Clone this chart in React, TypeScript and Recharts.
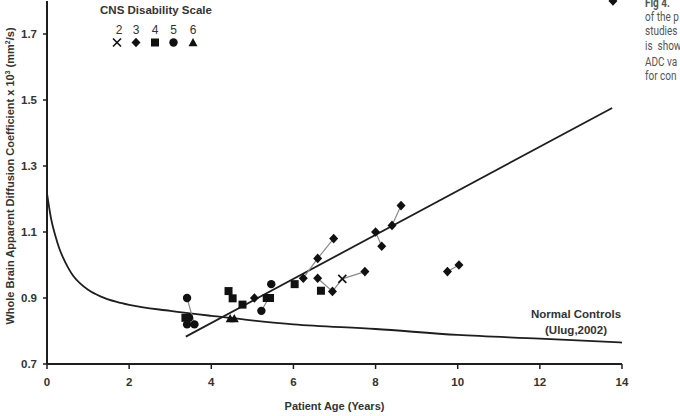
import React from "react";
import { ComposedChart, XAxis, YAxis, Scatter, Line, Customized } from "recharts";

const FONT = '"Liberation Sans", Arial, sans-serif';
const INK = "#1e1e1e";
const TEXT = "#333";

const xTicks = [0, 2, 4, 6, 8, 10, 12, 14];
const yTicks = [0.7, 0.9, 1.1, 1.3, 1.5, 1.7];

// CNS disability score groups (age in years, whole brain ADC x10^3 mm2/s)
const cns2Age = [7.19];
const cns2Adc = [0.958];
const cns3Age = [5.05, 6.24, 6.59, 6.98, 6.59, 6.95, 7.74, 8.0, 8.15, 8.4, 8.62, 9.75, 10.03, 13.78];
const cns3Adc = [0.9, 0.96, 1.02, 1.08, 0.96, 0.92, 0.98, 1.1, 1.057, 1.12, 1.18, 0.98, 1.0, 1.8];
const cns4Age = [3.37, 4.42, 4.52, 4.76, 5.35, 5.43, 6.03, 6.67];
const cns4Adc = [0.84, 0.921, 0.899, 0.88, 0.9, 0.9, 0.942, 0.922];
const cns5Age = [3.41, 3.46, 3.41, 3.59, 5.22, 5.46];
const cns5Adc = [0.9, 0.84, 0.82, 0.82, 0.861, 0.942];
const cns6Age = [4.46, 4.56];
const cns6Adc = [0.838, 0.838];

// repeated scans of the same patient, joined by thin grey lines
const followUps = [
  [[3.41, 0.9], [3.59, 0.82]],
  [[5.22, 0.861], [5.4, 0.9]],
  [[6.24, 0.96], [6.59, 1.02], [6.98, 1.08]],
  [[6.59, 0.96], [6.95, 0.92], [7.19, 0.958], [7.74, 0.98]],
  [[8.0, 1.1], [8.15, 1.057]],
  [[8.4, 1.12], [8.62, 1.18]],
  [[9.75, 0.98], [10.03, 1.0]],
];

// normal controls (Ulug, 2002)
const controlAge = [0, 0.1, 0.2, 0.3, 0.4, 0.5, 0.65, 0.8, 1.0, 1.3, 1.7, 2, 3, 4, 6, 8, 10, 12, 14];
const controlAdc = [1.217, 1.14, 1.09, 1.05, 1.02, 0.995, 0.965, 0.945, 0.925, 0.905, 0.888, 0.879, 0.861, 0.846, 0.82, 0.806, 0.788, 0.777, 0.765];

// linear fit through patients
const fitAge = [3.38, 13.76];
const fitAdc = [0.783, 1.476];

const toPts = (xs: number[], ys: number[]) => xs.map((x, i) => ({ x, y: ys[i] }));

type Kind = "x" | "diamond" | "square" | "circle" | "triangle";

const Mark = ({ cx, cy, kind }: { cx: number; cy: number; kind: Kind }) => {
  if (kind === "x")
    return (
      <g stroke="#111" strokeWidth={1.6}>
        <line x1={cx - 4} y1={cy - 4} x2={cx + 4} y2={cy + 4} />
        <line x1={cx - 4} y1={cy + 4} x2={cx + 4} y2={cy - 4} />
      </g>
    );
  if (kind === "diamond")
    return <polygon points={`${cx},${cy - 4.8} ${cx + 4.5},${cy} ${cx},${cy + 4.8} ${cx - 4.5},${cy}`} fill="#111" />;
  if (kind === "square") return <rect x={cx - 4} y={cy - 4} width={8} height={8} fill="#111" />;
  if (kind === "circle") return <circle cx={cx} cy={cy} r={4.2} fill="#111" />;
  return <polygon points={`${cx},${cy - 4.5} ${cx + 4.5},${cy + 3.8} ${cx - 4.5},${cy + 3.8}`} fill="#111" />;
};

const shapeOf = (kind: Kind) => (p: any) => <Mark cx={p.cx} cy={p.cy} kind={kind} />;

const legendItems: { label: string; kind: Kind; x: number }[] = [
  { label: "2", kind: "x", x: 119 },
  { label: "3", kind: "diamond", x: 136 },
  { label: "4", kind: "square", x: 155 },
  { label: "5", kind: "circle", x: 173.5 },
  { label: "6", kind: "triangle", x: 193 },
];

const captionLines = ["of the p", "studies", "is  show", "ADC va", "for con"];
const captionY = [21, 35, 50, 66, 80];

const Annotations = () => (
  <g fontFamily={FONT}>
    <text x={156} y={14} textAnchor="middle" fontSize={11.5} fontWeight="bold" fill={TEXT}>
      CNS Disability Scale
    </text>
    {legendItems.map((it) => (
      <g key={it.label}>
        <text x={it.x} y={33.5} textAnchor="middle" fontSize={12} fill={TEXT}>
          {it.label}
        </text>
        <Mark cx={it.x - (it.kind === "x" ? 2 : 0)} cy={42.5} kind={it.kind} />
      </g>
    ))}
    <text x={576} y={318} textAnchor="middle" fontSize={11.5} fontWeight="bold" fill={TEXT}>
      Normal Controls
    </text>
    <text x={576} y={333.5} textAnchor="middle" fontSize={11.5} fontWeight="bold" fill={TEXT}>
      (Ulug,2002)
    </text>
    <text transform="translate(14,176) rotate(-90)" textAnchor="middle" fontSize={11} fontWeight="bold" fill={TEXT}>
      Whole Brain Apparent Diffusion Coefficient x 10
      <tspan dy={-4} fontSize={7}>3</tspan>
      <tspan dy={4}> (mm</tspan>
      <tspan dy={-4} fontSize={7}>2</tspan>
      <tspan dy={4}>/s)</tspan>
    </text>
    <g transform="translate(645,0) scale(0.8,1)" fontFamily="Roboto, sans-serif" fontSize={12.5} fill="#555">
      <text x={0} y={7} fontWeight="bold">Fig 4. </text>
      {captionLines.map((t, i) => (
        <text key={t} x={0} y={captionY[i]} xmlSpace="preserve">
          {t}
        </text>
      ))}
    </g>
  </g>
);

const tickStyle = { fill: TEXT, fontSize: 11.5, fontWeight: "bold", fontFamily: FONT };

export default function App() {
  return (
    <div style={{ position: "absolute", left: 0, top: 0, background: "#fff" }}>
      <ComposedChart width={680} height={416} margin={{ top: 1, right: 58, bottom: 0, left: 0 }}>
        <XAxis
          type="number"
          dataKey="x"
          domain={[0, 14]}
          ticks={xTicks}
          interval={0}
          height={52}
          axisLine={{ stroke: INK, strokeWidth: 2 }}
          tickLine={{ stroke: INK, strokeWidth: 1.5 }}
          tickSize={5}
          tickMargin={9}
          tick={tickStyle}
          label={{ value: "Patient Age (Years)", position: "insideBottom", offset: 6, fill: TEXT, fontSize: 11, fontWeight: "bold", fontFamily: FONT }}
        />
        <YAxis
          type="number"
          dataKey="y"
          domain={[0.7, 1.8]}
          ticks={yTicks}
          interval={0}
          width={47}
          axisLine={{ stroke: INK, strokeWidth: 2 }}
          tickLine={{ stroke: INK, strokeWidth: 1.5 }}
          tickSize={4}
          tickMargin={6}
          tick={tickStyle}
          tickFormatter={(v: number) => v.toFixed(1)}
        />
        {followUps.map((path, i) => (
          <Scatter
            key={"fu" + i}
            data={path.map(([x, y]) => ({ x, y }))}
            line={{ stroke: "#8a8a8a", strokeWidth: 1.2 }}
            shape={() => <g />}
            isAnimationActive={false}
          />
        ))}
        <Line data={toPts(controlAge, controlAdc)} dataKey="y" type="monotone" stroke={INK} strokeWidth={1.8} dot={false} isAnimationActive={false} />
        <Line data={toPts(fitAge, fitAdc)} dataKey="y" type="linear" stroke={INK} strokeWidth={1.8} dot={false} isAnimationActive={false} />
        <Scatter data={toPts(cns2Age, cns2Adc)} shape={shapeOf("x")} isAnimationActive={false} />
        <Scatter data={toPts(cns3Age, cns3Adc)} shape={shapeOf("diamond")} isAnimationActive={false} />
        <Scatter data={toPts(cns4Age, cns4Adc)} shape={shapeOf("square")} isAnimationActive={false} />
        <Scatter data={toPts(cns5Age, cns5Adc)} shape={shapeOf("circle")} isAnimationActive={false} />
        <Scatter data={toPts(cns6Age, cns6Adc)} shape={shapeOf("triangle")} isAnimationActive={false} />
        <Customized component={Annotations} />
      </ComposedChart>
    </div>
  );
}
